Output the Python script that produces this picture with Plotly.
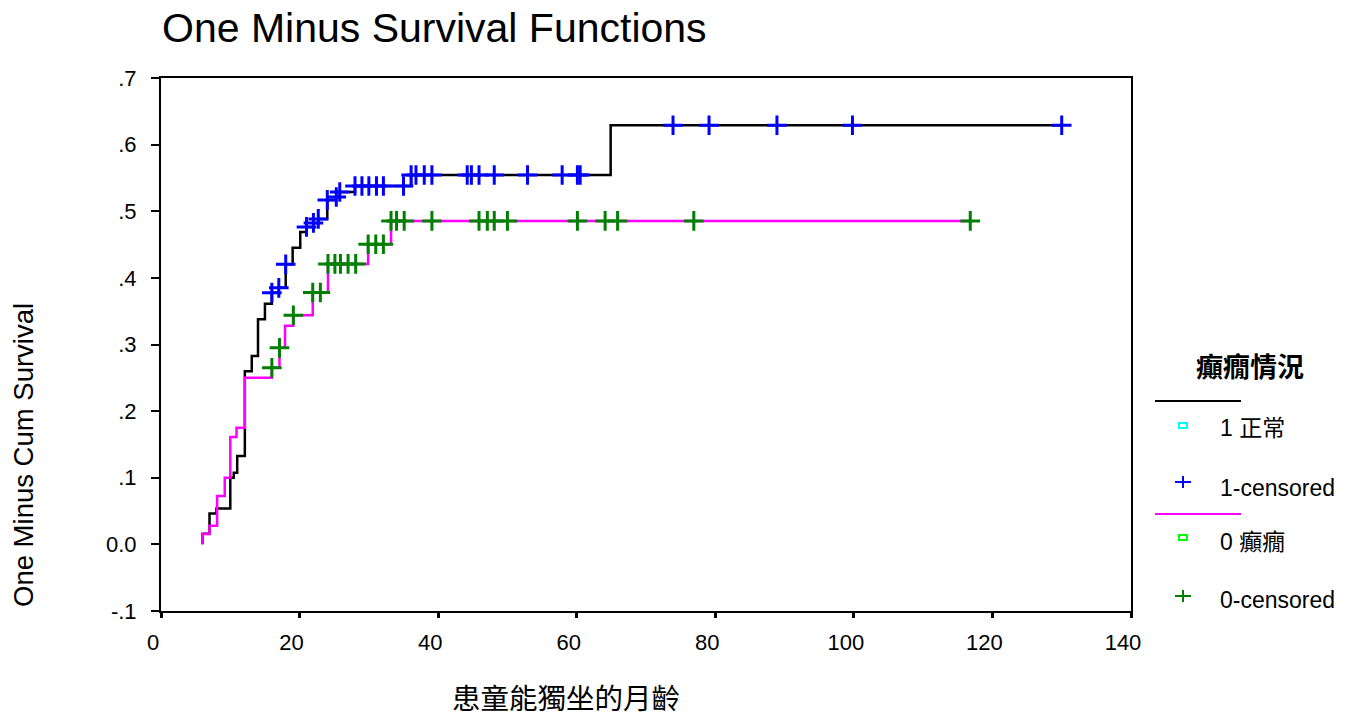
import plotly.graph_objects as go

# Group "1 正常": event times (months) and one-minus-survival after each event
g1_times = [6.0, 7.0, 8.0, 10.0, 10.5, 11.0, 12.1, 13.1, 14.0, 15.0, 16.0, 17.0,
            18.0, 19.0, 20.1, 21.0, 22.0, 22.7, 24.0, 25.3, 25.8, 28.0, 36.1, 64.9]
g1_values = [0.016, 0.0465, 0.054, 0.100, 0.1075, 0.1326, 0.260, 0.2827, 0.3378,
             0.3613, 0.3778, 0.385, 0.4204, 0.4454, 0.4690, 0.4765, 0.4825, 0.4885,
             0.517, 0.5215, 0.529, 0.538, 0.5545, 0.629]
g1_censored = [16.0, 17.0, 18.0, 21.0, 22.0, 22.7, 24.0, 25.3, 25.8, 28.0, 29.0,
               30.0, 31.1, 32.1, 35.0, 36.1, 36.8, 38.0, 39.1, 44.2, 44.8, 45.9,
               48.1, 52.9, 57.9, 60.1, 60.5, 73.9, 79.1, 88.9, 99.8, 130.0]

# Group "0 癲癇"
g0_times = [6.0, 7.0, 8.1, 9.2, 10.0, 10.9, 12.1, 16.0, 17.1, 17.9, 19.1, 21.9,
            24.1, 29.9, 33.2]
g0_values = [0.0155, 0.028, 0.0725, 0.100, 0.161, 0.175, 0.250, 0.265, 0.295,
             0.328, 0.344, 0.378, 0.421, 0.4505, 0.4855]
g0_censored = [16.0, 17.1, 19.1, 21.9, 23.0, 24.1, 25.1, 25.9, 27.0, 28.1, 29.9,
               31.0, 32.1, 33.2, 34.0, 35.1, 39.1, 45.9, 47.1, 48.1, 50.0, 60.1,
               64.1, 65.9, 76.9, 116.8]

x_ticks = [0, 20, 40, 60, 80, 100, 120, 140]
y_ticks = [-0.1, 0.0, 0.1, 0.2, 0.3, 0.4, 0.5, 0.6, 0.7]
y_ticktext = ["-.1", "0.0", ".1", ".2", ".3", ".4", ".5", ".6", ".7"]

FONT = "Liberation Sans, Arial, Noto Sans CJK TC, sans-serif"
W, H = 1355, 715
L, R, T, B = 161, 1131, 78, 611  # plot-area edges in pixels


def step_path(times, values, end):
    xs = [times[0]] + list(times) + [end]
    ys = [0.0] + list(values) + [values[-1]]
    return xs, ys


def value_at(times, values, t):
    v = 0.0
    for ti, vi in zip(times, values):
        if ti <= t + 1e-9:
            v = vi
    return v


def px(xp):
    return (xp - L) / (R - L)


def py(yp):
    return (B - yp) / (B - T)


fig = go.Figure()

x1, y1 = step_path(g1_times, g1_values, max(g1_censored))
x0, y0 = step_path(g0_times, g0_values, max(g0_censored))

fig.add_trace(go.Scatter(x=x1, y=y1, mode="lines", line=dict(color="black", width=2.5, shape="hv"),
                         showlegend=False, hoverinfo="skip"))
fig.add_trace(go.Scatter(x=x0, y=y0, mode="lines", line=dict(color="#FF00FF", width=2.5, shape="hv"),
                         showlegend=False, hoverinfo="skip"))
fig.add_trace(go.Scatter(x=g1_censored, y=[value_at(g1_times, g1_values, t) for t in g1_censored],
                         mode="markers",
                         marker=dict(symbol="cross-thin", size=14, line=dict(color="#0000FF", width=3)),
                         showlegend=False))
fig.add_trace(go.Scatter(x=g0_censored, y=[value_at(g0_times, g0_values, t) for t in g0_censored],
                         mode="markers",
                         marker=dict(symbol="cross-thin", size=14, line=dict(color="#008000", width=3)),
                         showlegend=False))

# Legend drawn beside the plot area
shapes = [
    dict(type="line", xref="paper", yref="paper", x0=px(1155), x1=px(1241), y0=py(401), y1=py(401),
         line=dict(color="black", width=2)),
    dict(type="line", xref="paper", yref="paper", x0=px(1155), x1=px(1241), y0=py(514), y1=py(514),
         line=dict(color="#FF00FF", width=2)),
    dict(type="rect", xref="paper", yref="paper", x0=px(1179), x1=px(1187), y0=py(428), y1=py(423),
         line=dict(color="#00FFFF", width=2)),
    dict(type="rect", xref="paper", yref="paper", x0=px(1179), x1=px(1187), y0=py(540), y1=py(535),
         line=dict(color="#00FF00", width=2)),
]
for cx, cy, col in [(1183, 482, "#0000FF"), (1183, 596, "#008000")]:
    shapes.append(dict(type="line", xref="paper", yref="paper", x0=px(cx - 8), x1=px(cx + 8),
                       y0=py(cy), y1=py(cy), line=dict(color=col, width=2)))
    shapes.append(dict(type="line", xref="paper", yref="paper", x0=px(cx), x1=px(cx),
                       y0=py(cy - 6), y1=py(cy + 6), line=dict(color=col, width=2)))

annotations = [
    dict(text="One Minus Cum Survival", textangle=-90, x=px(23), y=py(455), xref="paper", yref="paper",
         xanchor="center", yanchor="middle", showarrow=False, font=dict(size=27.5, color="black")),
    dict(text="患童能獨坐的月齡", x=px(566), y=py(699), xref="paper", yref="paper",
         xanchor="center", yanchor="middle", showarrow=False, font=dict(size=28.5, color="black")),
    dict(text="<b>癲癇情況</b>", x=px(1250), y=py(368), xref="paper", yref="paper",
         xanchor="center", yanchor="middle", showarrow=False, font=dict(size=27, color="black")),
]
for label, ycen in [("1 正常", 428), ("1-censored", 488), ("0 癲癇", 542), ("0-censored", 600)]:
    annotations.append(dict(text=label, x=px(1218), y=py(ycen), xref="paper", yref="paper",
                            xanchor="left", yanchor="middle", showarrow=False,
                            font=dict(size=23, color="black")))

fig.update_layout(
    width=W, height=H, autosize=False,
    margin=dict(l=L, r=W - R, t=T, b=H - B, pad=0),
    paper_bgcolor="white", plot_bgcolor="white",
    font=dict(family=FONT, color="black"),
    title=dict(text="One Minus Survival Functions", x=162 / W, xref="container", xanchor="left",
               y=1 - 28 / H, yref="container", yanchor="middle", font=dict(size=41)),
    xaxis=dict(range=[0, 140], tickvals=x_ticks, showline=True, linecolor="black", linewidth=2,
               mirror=True, ticks="outside", ticklen=5, tickwidth=3, tickcolor="black",
               showgrid=False, zeroline=False, tickfont=dict(size=22), ticklabelshift=-8,
               ticklabelstandoff=6),
    yaxis=dict(range=[-0.1, 0.7], tickvals=y_ticks, ticktext=y_ticktext, showline=True,
               linecolor="black", linewidth=2, mirror=True, ticks="outside", ticklen=8, tickwidth=2,
               tickcolor="black", showgrid=False, zeroline=False, tickfont=dict(size=22),
               ticklabelstandoff=10),
    shapes=shapes, annotations=annotations,
)

fig.write_html("out.html")
